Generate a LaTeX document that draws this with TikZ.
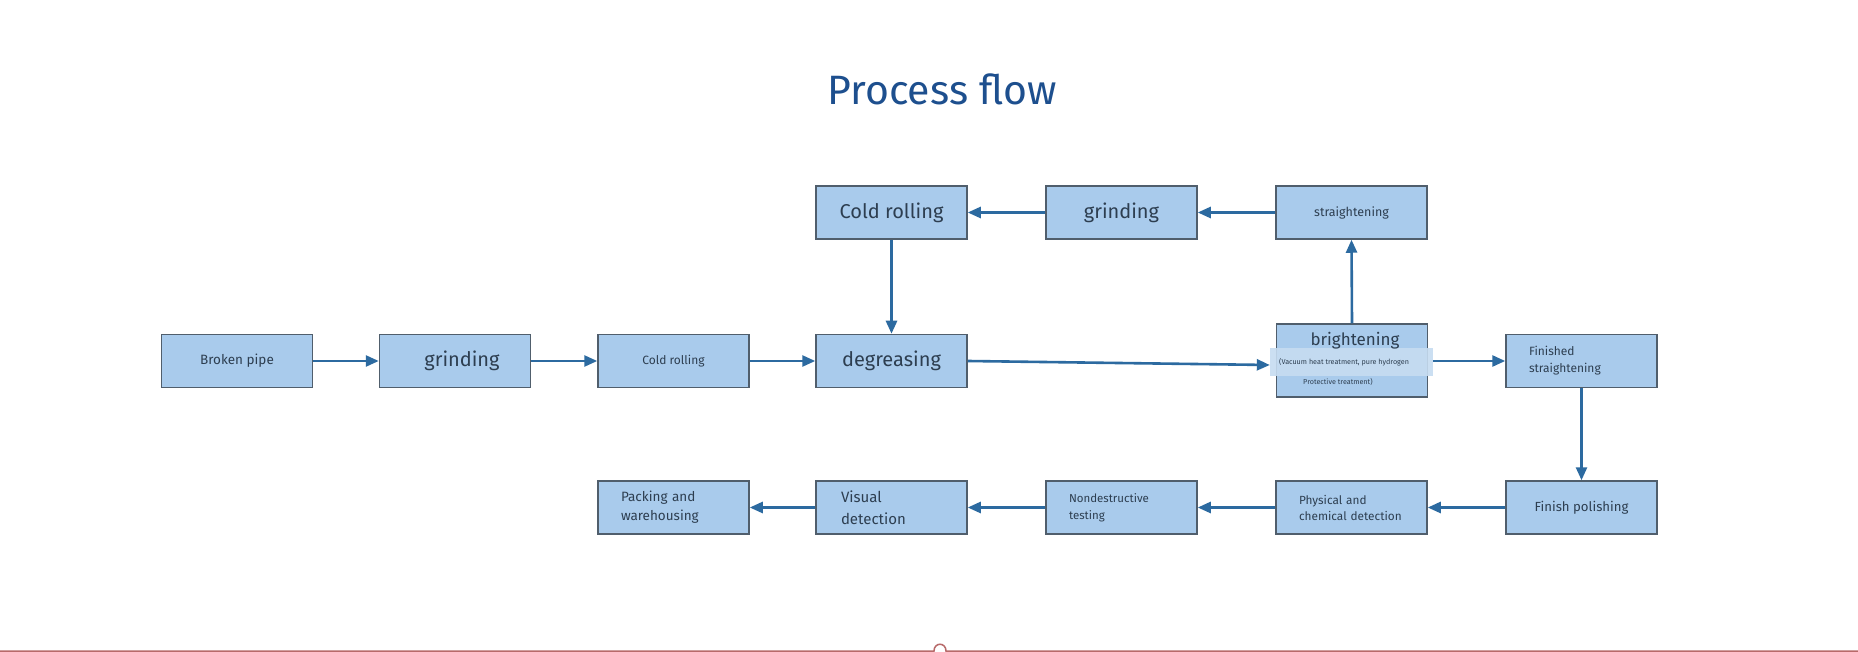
\documentclass[tikz,border=0pt]{standalone}
\usepackage{fontspec}
\setmainfont{Fira Sans}
\usetikzlibrary{arrows.meta,calc}
\definecolor{boxfill}{HTML}{A9CBEC}
\definecolor{boxline}{HTML}{505E6C}
\definecolor{arrowc}{HTML}{2C6AA0}
\definecolor{txt}{HTML}{2D3E50}
\definecolor{titlec}{HTML}{1D4F8E}
\definecolor{bandc}{HTML}{C6DCF1}
\definecolor{redline}{HTML}{B86A6A}
\newcommand{\myfs}[2]{\fontsize{#1}{#2}\selectfont}
\begin{document}
\begin{tikzpicture}[x=1pt,y=-1pt,
  procbox/.style={draw=boxline, fill=boxfill, line width=1.5pt, minimum width=151pt, minimum height=53pt, inner sep=0pt, text=txt, align=center},
  leftbox/.style={procbox, text width=105pt, inner xsep=23pt, align=left},
  flow/.style={draw=arrowc, line width=2.6pt, -{Triangle[length=13pt,width=11pt]}},
  plain/.style={text=txt, inner sep=0pt}
]
\fill[white] (0,0) rectangle (1858,652);
\useasboundingbox (0,0) rectangle (1858,652);

\node[font=\myfs{41}{48}, text=titlec, anchor=base, inner sep=0pt] (title) at (942,105) {Process flow};

% top row
\node[procbox, font=\myfs{20}{24}] (cold2) at (891.5,212.5) {\raisebox{3pt}{Cold rolling}};
\node[procbox, font=\myfs{20}{24}] (grind2) at (1121.5,212.5) {grinding};
\node[procbox, font=\myfs{12.5}{15}] (straight) at (1351.5,212.5) {straightening};

% middle row
\node[procbox, font=\myfs{13.5}{16}] (pipe) at (237,361) {Broken pipe};
\node[procbox, font=\myfs{20}{24}] (grind1) at (455,361) {\hspace*{14pt}grinding};
\node[procbox, font=\myfs{12}{14}] (cold1) at (673.5,361) {Cold rolling};
\node[procbox, font=\myfs{20}{24}] (degr) at (891.5,361) {degreasing};
\node[procbox, minimum height=73pt] (bright) at (1352,360.5) {};
\node[fill=bandc, fill opacity=0.9, minimum width=163pt, minimum height=28pt, inner sep=0pt] (brband) at (1351.5,362) {};
\node[plain, font=\myfs{17}{20}] (brtitle) at (1355,341) {brightening};
\node[plain, font=\myfs{7.2}{9}, anchor=west] (brnote1) at (1279,362) {(Vacuum heat treatment, pure hydrogen};
\node[plain, font=\myfs{7.2}{9}, anchor=west] (brnote2) at (1303,382) {Protective treatment)};
\node[leftbox, font=\myfs{12}{17}] (finstr) at (1581.5,361) {Finished\\straightening};

% bottom row
\node[procbox, font=\myfs{13.2}{16}] (finpol) at (1581.5,507.5) {Finish polishing};
\node[leftbox, font=\myfs{11.8}{16}] (phys) at (1351.5,507.5) {Physical and\\chemical detection};
\node[leftbox, font=\myfs{11.5}{17}] (ndt) at (1121.5,507.5) {Nondestructive\\testing};
\node[leftbox, font=\myfs{15}{22}, inner xsep=25pt, text width=101pt] (vis) at (891.5,507.5) {Visual\\detection};
\node[leftbox, font=\myfs{13.5}{19}] (pack) at (673.5,507.5) {Packing and\\warehousing};

% connectors
\draw[flow] (pipe.east) -- (grind1.west);
\draw[flow] (grind1.east) -- (cold1.west);
\draw[flow] (cold1.east) -- (degr.west);
\draw[flow] (cold2.south) -- (degr.north);
\draw[flow] (degr.east) -- ([yshift=-3pt]brband.west);
\draw[flow] (bright.north) -- (straight.south);
\draw[flow] (straight.west) -- (grind2.east);
\draw[flow] (grind2.west) -- (cold2.east);
\draw[flow] (brband.east |- finstr.west) -- (finstr.west);
\draw[flow] (finstr.south) -- (finpol.north);
\draw[flow] (finpol.west) -- (phys.east);
\draw[flow] (phys.west) -- (ndt.east);
\draw[flow] (ndt.west) -- (vis.east);
\draw[flow] (vis.west) -- (pack.east);

% bottom rule with small bump
\draw[redline, line width=1.5pt] (0,651) -- (934,651) .. controls (934,642) and (946,642) .. (946,651) -- (1858,651);
\end{tikzpicture}
\end{document}
